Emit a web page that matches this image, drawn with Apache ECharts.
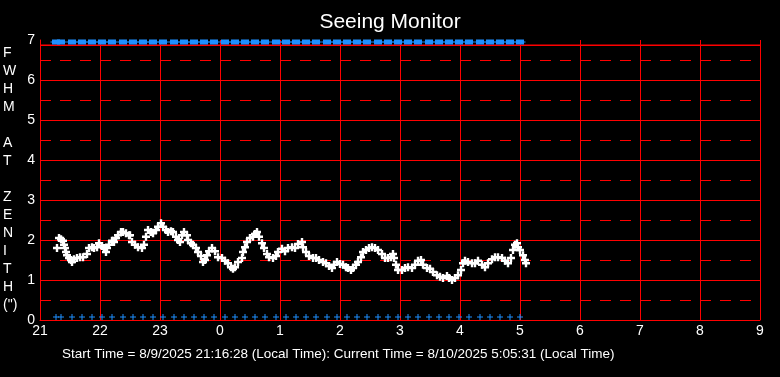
<!DOCTYPE html>
<html>
<head>
<meta charset="utf-8">
<title>Seeing Monitor</title>
<script src="https://cdn.jsdelivr.net/npm/echarts@6/dist/echarts.min.js"></script>
<style>
  html, body { margin: 0; padding: 0; background: #000; }
  #chart { width: 780px; height: 377px; }
</style>
</head>
<body>
<div id="chart"></div>
<script>
// x values are minutes after 21:00 local time
const hourLabels = ['21', '22', '23', '0', '1', '2', '3', '4', '5', '6', '7', '8', '9']

const seeingTime = [
  17, 19, 21, 23, 24, 25, 26, 27, 29, 31, 32, 34, 37, 40, 43, 47, 49, 52, 54, 57,
  59, 62, 64, 66, 67, 69, 72, 74, 76, 78, 81, 83, 86, 89, 90, 92, 95, 98, 102, 104,
  106, 108, 111, 113, 116, 118, 121, 123, 126, 128, 131, 133, 136, 138, 140, 142, 144, 147, 148, 151,
  153, 156, 158, 161, 163, 165, 167, 169, 172, 175, 178, 182, 185, 188, 191, 193, 195, 198, 202, 203,
  205, 207, 210, 213, 215, 217, 219, 222, 224, 227, 229, 233, 236, 238, 242, 245, 248, 252, 255, 258,
  262, 263, 266, 269, 273, 276, 279, 283, 286, 289, 292, 294, 297, 300, 303, 306, 308, 311, 313, 316,
  318, 321, 323, 326, 329, 332, 335, 338, 342, 345, 348, 351, 353, 354, 356, 358, 362, 365, 368, 372,
  375, 378, 381, 383, 387, 390, 393, 397, 400, 403, 407, 409, 412, 415, 418, 421, 423, 425, 428, 432,
  435, 438, 442, 445, 448, 452, 455, 458, 462, 465, 468, 471, 473, 475, 477, 478, 480, 483, 485, 486
]
const seeingFwhm = [
  1.8, 2.05, 2.02, 1.98, 1.88, 1.8, 1.7, 1.62, 1.55, 1.5, 1.45, 1.52, 1.55, 1.57, 1.57, 1.65, 1.8, 1.82, 1.8, 1.82,
  1.92, 1.85, 1.8, 1.7, 1.8, 1.88, 1.98, 1.95, 2.05, 2.12, 2.2, 2.2, 2.17, 2.12, 2.12, 1.95, 1.88, 1.82, 1.8, 1.88,
  2.08, 2.25, 2.2, 2.17, 2.25, 2.33, 2.42, 2.33, 2.25, 2.2, 2.22, 2.2, 2.08, 2.0, 1.95, 2.12, 2.2, 2.12, 2.0, 1.92,
  1.88, 1.8, 1.7, 1.6, 1.45, 1.5, 1.62, 1.72, 1.8, 1.72, 1.57, 1.55, 1.48, 1.42, 1.32, 1.28, 1.32, 1.45, 1.55, 1.7,
  1.82, 1.95, 2.05, 2.08, 2.15, 2.2, 2.08, 1.92, 1.8, 1.65, 1.57, 1.55, 1.6, 1.7, 1.78, 1.72, 1.8, 1.82, 1.8, 1.9,
  1.95, 1.82, 1.7, 1.6, 1.55, 1.55, 1.5, 1.45, 1.42, 1.35, 1.3, 1.38, 1.45, 1.4, 1.38, 1.32, 1.3, 1.25, 1.3, 1.38,
  1.45, 1.57, 1.7, 1.75, 1.8, 1.82, 1.8, 1.75, 1.65, 1.55, 1.55, 1.57, 1.65, 1.55, 1.38, 1.25, 1.25, 1.3, 1.32, 1.3,
  1.38, 1.48, 1.5, 1.38, 1.3, 1.28, 1.2, 1.12, 1.08, 1.05, 1.1, 1.05, 1.0, 1.05, 1.12, 1.25, 1.42, 1.48, 1.45, 1.42,
  1.42, 1.48, 1.38, 1.32, 1.42, 1.52, 1.57, 1.57, 1.55, 1.48, 1.42, 1.55, 1.75, 1.88, 1.92, 1.82, 1.75, 1.62, 1.5, 1.42
]

// blue status marks (drawn at the bottom and top of the plot)
const statusTime = [
  16, 21, 32, 42, 52, 62, 72, 83, 93, 103, 113, 123, 134, 144, 154, 164, 174, 185, 195, 205,
  215, 225, 236, 246, 256, 266, 276, 287, 297, 307, 317, 327, 338, 348, 358, 368, 378, 389, 399, 409,
  419, 429, 440, 450, 460, 470, 480
]

const titleText = 'Seeing Monitor'
const yAxisTitle = 'F\nW\nH\nM\n\nA\nT\n\nZ\nE\nN\nI\nT\nH\n(")'
const footerText = 'Start Time = 8/9/2025 21:16:28 (Local Time): Current Time = 8/10/2025 5:05:31 (Local Time)'

const RED = '#ff0000'
const BLUE = '#1e8fff'
const FONT = '"Liberation Sans", Arial, sans-serif'

const plusPath = 'path://M0,2.8H8V5.2H0Z M2.8,0H5.2V8H2.8Z'
const thinPlusPath = 'path://M0,2.5H6V3.5H0Z M2.5,0H3.5V6H2.5Z'
const widePlusPath = 'path://M0,2H11V3H0Z M1.5,0H9.5V5H1.5Z'

const chart = echarts.init(document.getElementById('chart'))

chart.setOption({
  backgroundColor: '#000',
  animation: false,
  textStyle: { fontFamily: FONT },
  title: {
    text: titleText,
    left: 'center',
    top: 7,
    textStyle: { color: '#fff', fontSize: 21, fontWeight: 'normal', fontFamily: FONT }
  },
  grid: { left: 40, right: 20, top: 40, bottom: 57, containLabel: false },
  xAxis: {
    type: 'value',
    min: 0,
    max: 720,
    interval: 60,
    axisLine: { show: true, onZero: false, lineStyle: { color: RED, width: 1 } },
    axisTick: { show: false },
    axisLabel: {
      color: '#fff',
      fontSize: 14,
      margin: 4,
      fontFamily: FONT,
      formatter: v => hourLabels[Math.round(v / 60)]
    },
    splitLine: { show: true, lineStyle: { color: RED, width: 1 } }
  },
  yAxis: {
    type: 'value',
    min: 0,
    max: 7,
    interval: 1,
    axisLine: { show: true, lineStyle: { color: RED, width: 1 } },
    axisTick: { show: false },
    axisLabel: { color: '#fff', fontSize: 14, margin: 5, fontFamily: FONT },
    splitLine: { show: true, showMaxLine: false, lineStyle: { color: RED, width: 1 } },
    minorTick: { show: false, splitNumber: 2 },
    minorSplitLine: { show: true, lineStyle: { color: RED, width: 1, type: [11, 9] } }
  },
  series: [
    {
      name: 'FWHM',
      type: 'scatter',
      data: seeingTime.map((t, i) => [t, seeingFwhm[i]]),
      symbol: plusPath,
      symbolSize: 8,
      itemStyle: { color: '#fff', opacity: 1 }
    },
    {
      name: 'status low',
      type: 'scatter',
      clip: false,
      data: statusTime.map(t => [t, 0]),
      symbol: thinPlusPath,
      symbolSize: 6,
      symbolOffset: [0, -3],
      itemStyle: { color: BLUE, opacity: 1 }
    },
    {
      name: 'status high',
      type: 'scatter',
      clip: false,
      z: 6,
      data: statusTime.map(t => [t, 7]),
      symbol: widePlusPath,
      symbolSize: [11, 5],
      symbolOffset: [0, 2],
      itemStyle: { color: BLUE, opacity: 1 }
    }
  ]
})

// plot frame top edge sits a little below the 7 tick; place it through the axis scale
const frameLeft = chart.convertToPixel({ xAxisIndex: 0 }, 0)
const frameRight = chart.convertToPixel({ xAxisIndex: 0 }, 720)
const frameTop = Math.round(chart.convertToPixel({ yAxisIndex: 0 }, 6.875))

chart.setOption({
  graphic: [
    {
      type: 'rect',
      z: 1,
      shape: { x: frameLeft, y: frameTop - 0.5, width: frameRight - frameLeft, height: 1.5 },
      style: { fill: RED }
    },
    {
      type: 'text',
      left: 3,
      top: 44,
      style: {
        text: yAxisTitle,
        fill: '#fff',
        font: '14px ' + FONT,
        lineHeight: 18,
        align: 'center',
        width: 14
      }
    },
    {
      type: 'text',
      left: 62,
      top: 347,
      style: { text: footerText, fill: '#fff', font: '13.5px ' + FONT }
    }
  ]
})
</script>
</body>
</html>
